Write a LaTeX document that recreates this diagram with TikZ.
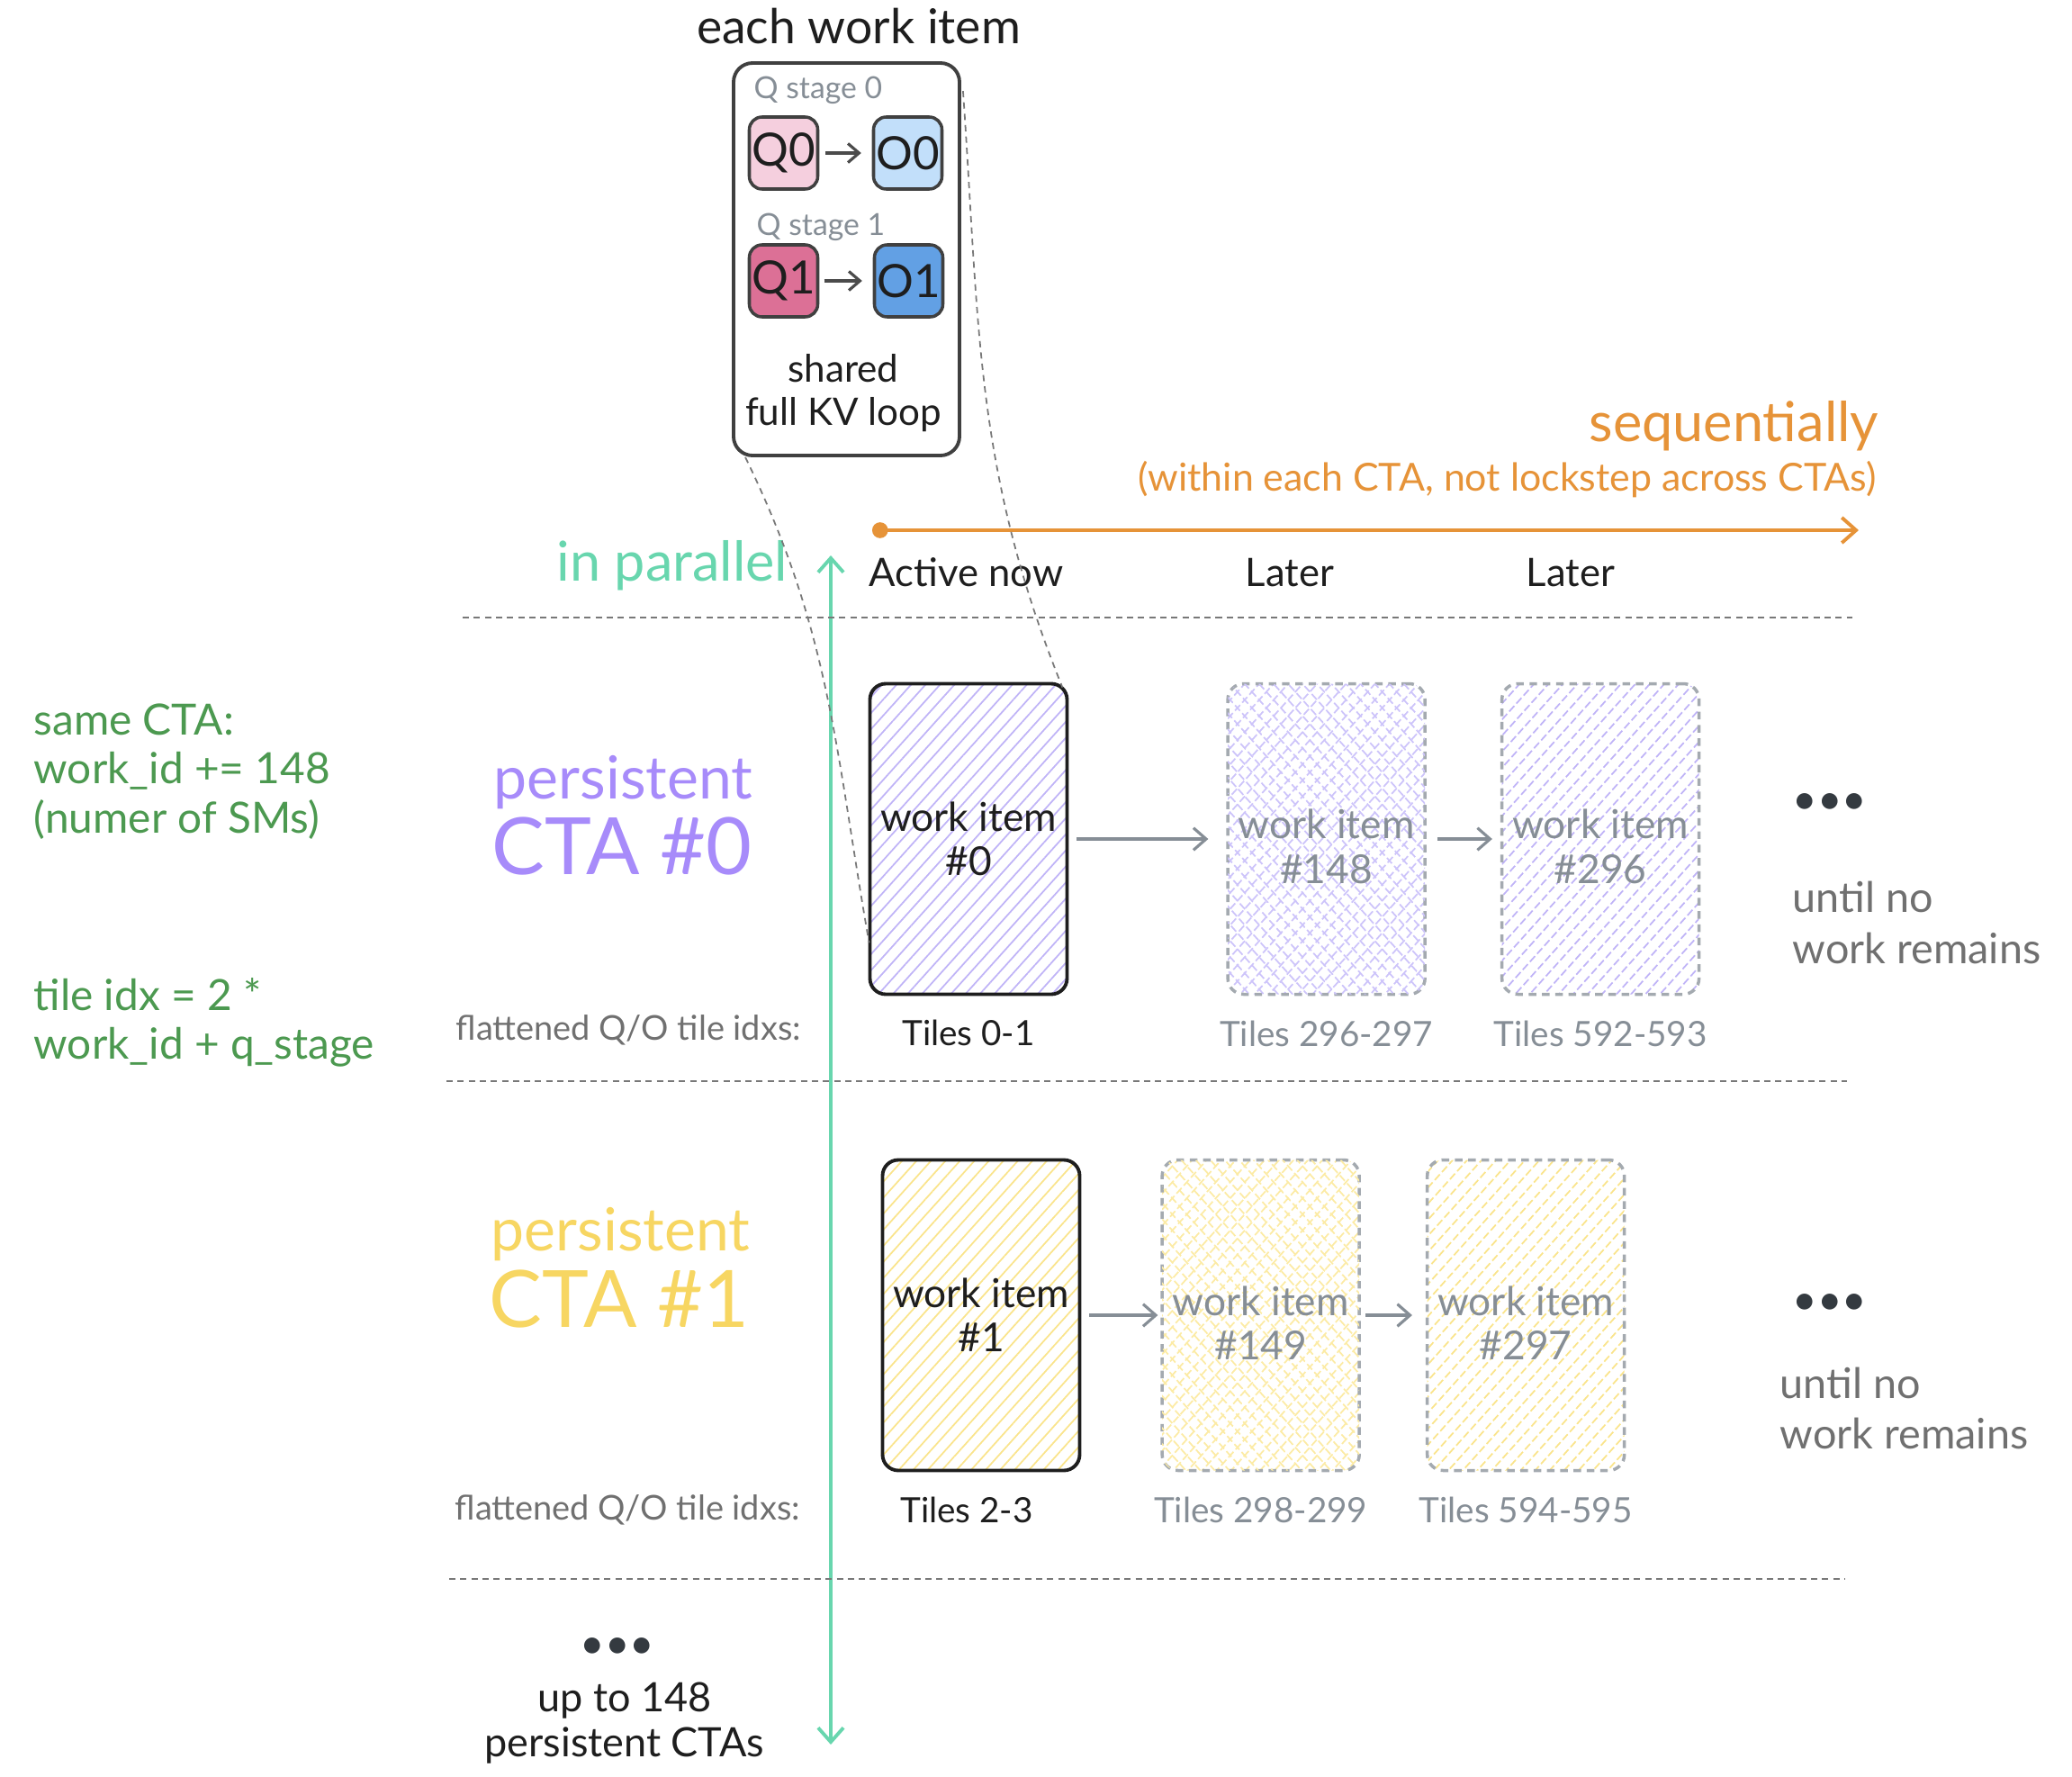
\documentclass[tikz,border=0pt]{standalone}
\usepackage{fontspec}
\setmainfont{Lato}
\usepackage{tikz}
\usetikzlibrary{arrows.meta, positioning, calc, patterns.meta}
\definecolor{colInk}{RGB}{30,30,30}
\definecolor{colGrey}{RGB}{134,142,150}
\definecolor{colGreyTxt}{RGB}{112,112,112}
\definecolor{colSep}{RGB}{120,120,120}
\definecolor{colViolet}{RGB}{167,139,250}
\definecolor{colVioletHatch}{RGB}{192,180,247}
\definecolor{colVioletCross}{RGB}{205,196,250}
\definecolor{colYellow}{RGB}{247,214,98}
\definecolor{colYellowHatch}{RGB}{250,228,140}
\definecolor{colYellowCross}{RGB}{252,235,165}
\definecolor{colGreen}{RGB}{76,153,80}
\definecolor{colTeal}{RGB}{104,214,174}
\definecolor{colOrange}{RGB}{230,147,56}
\definecolor{colQzero}{RGB}{245,207,222}
\definecolor{colOzero}{RGB}{194,223,250}
\definecolor{colQone}{RGB}{220,112,150}
\definecolor{colOone}{RGB}{98,160,228}
\definecolor{colDots}{RGB}{52,58,64}

\begin{document}
\begin{tikzpicture}[
        text=colInk,
        heading/.style={font=\fontsize{15.2}{18}\selectfont},
        hdr/.style={font=\fontsize{12.4}{15}\selectfont, inner sep=0pt},
        stage/.style={font=\fontsize{9.6}{11}\selectfont, text=colGrey, inner sep=0pt},
        qo/.style={rectangle, rounded corners=4pt, inner sep=0pt, minimum width=0.76cm, minimum height=0.80cm, draw=colInk!85, line width=1pt, font=\fontsize{14.5}{16}\selectfont},
        witem/.style={rectangle, rounded corners=5pt, inner sep=0pt, minimum width=2.19cm, minimum height=3.45cm, align=center, font=\fontsize{12.6}{14}\selectfont},
        active/.style={witem, draw=colInk, line width=1.1pt},
        later/.style={witem, draw=colGrey!75, dash pattern=on 2.4pt off 1.8pt, line width=1pt, text=colGrey},
        hatch/.style={pattern={Lines[angle=48, distance=3.4pt, line width=0.5pt]}, pattern color=#1},
        cross/.style={pattern={Lines[angle=48, distance=3.4pt, line width=0.5pt]}, pattern color=#1,
            postaction={pattern={Lines[angle=132, distance=3.4pt, line width=0.5pt]}, pattern color=#1}},
        arrow/.style={-{Straight Barb[length=4pt, width=7pt]}, line width=0.9pt, colGrey},
        small arrow/.style={-{Straight Barb[length=3.5pt, width=6pt]}, line width=0.9pt, colInk!80},
        sep/.style={colSep, dash pattern=on 2pt off 1.5pt, line width=0.6pt},
        link/.style={colSep, dash pattern=on 2pt off 1.6pt, line width=0.5pt},
        note/.style={font=\fontsize{13.6}{15.5}\selectfont, text=colGreen, align=left, inner sep=0pt},
        cta/.style={font=\fontsize{18.8}{22}\selectfont, inner sep=0pt},
        ctabig/.style={font=\fontsize{25}{28}\selectfont, inner sep=0pt},
        flat/.style={font=\fontsize{10.8}{13}\selectfont, text=colGreyTxt, inner sep=0pt},
        tiles/.style={font=\fontsize{11}{13}\selectfont, inner sep=0pt},
        until/.style={font=\fontsize{13.3}{16}\selectfont, text=colGreyTxt, align=left, inner sep=0pt},
        ellip/.style={font=\fontsize{13.5}{15}\selectfont, text=colDots, inner sep=0pt}
    ]
    \useasboundingbox (0,0) rectangle (23.02,-19.74);

    %% ── WORK ITEM DETAIL ──────────────────────────
    \node[heading] (title) at (9.54,-0.29) {each work item};
    \node[draw=colInk!85, line width=1.1pt, rounded corners=6pt, minimum width=2.51cm, minimum height=4.36cm] (each) at (9.405,-2.88) {};

    \node[stage, anchor=west] (stage0) at (8.37,-1.00) {Q stage 0};
    \node[qo, fill=colQzero] (q0) at (8.705,-1.70) {Q0};
    \node[qo, fill=colOzero] (o0) at (10.085,-1.70) {O0};
    \node[stage, anchor=west] (stage1) at (8.40,-2.52) {Q stage 1};
    \node[qo, fill=colQone] (q1) at (8.705,-3.12) {Q1};
    \node[qo, fill=colOone] (o1) at (10.095,-3.12) {O1};
    \node[align=center, font=\fontsize{12}{13.6}\selectfont] (kvloop) at (9.37,-4.365) {shared\\full KV loop};

    \draw[small arrow, shorten <=2pt, shorten >=3.4pt] (q0) -- (o0);
    \draw[small arrow, shorten <=1.5pt, shorten >=3.4pt] (q1) -- (o1);

    %% ── AXES ──────────────────────────────────────
    \node[font=\fontsize{17.4}{20}\selectfont, text=colOrange, anchor=east, inner sep=0pt] (seq) at (20.88,-4.73) {sequentially};
    \node[font=\fontsize{12.2}{14}\selectfont, text=colOrange, anchor=east, inner sep=0pt] (seq_note) at (20.85,-5.33) {(within each CTA, not lockstep across CTAs)};
    \coordinate (seq_start) at (9.69,-5.89);
    \coordinate (seq_end) at (20.65,-5.89);
    \draw[colOrange, line width=1.1pt, {Circle[length=5pt]}-{Straight Barb[length=4.5pt, width=8pt]}] (seq_start) -- (seq_end);

    \node[font=\fontsize{17.4}{20}\selectfont, text=colTeal, anchor=east, inner sep=0pt] (par) at (8.76,-6.28) {in parallel};
    \coordinate (par_top) at (9.23,-6.17);
    \coordinate (par_bot) at (9.23,-19.38);
    \draw[colTeal, line width=1.1pt, {Straight Barb[length=4.5pt, width=8pt]}-{Straight Barb[length=4.5pt, width=8pt]}] (par_top) -- (par_bot);

    \node[hdr, anchor=west] (now) at (9.65,-6.36) {Active now};
    \node[hdr] (later1) at (14.33,-6.36) {Later};
    \node[hdr] (later2) at (17.45,-6.36) {Later};

    % separators
    \draw[sep] (5.14,-6.86) -- (20.58,-6.86);
    \draw[sep] (4.96,-12.01) -- (20.52,-12.01);
    \draw[sep] (4.99,-17.54) -- (20.49,-17.54);

    %% ── LEFT NOTES ────────────────────────────────
    \node[note, anchor=west] (same_cta) at (0.37,-8.57) {same CTA:\\work\_id += 148\\(numer of SMs)};
    \node[note, anchor=west] (tile_idx) at (0.37,-11.36) {tile idx = 2 *\\work\_id + q\_stage};

    %% ── CTA #0 ────────────────────────────────────
    \node[cta, text=colViolet, anchor=west] (p0) at (5.48,-8.69) {persistent};
    \node[ctabig, text=colViolet, anchor=west] (cta0) at (5.46,-9.40) {CTA \#0};
    \node[flat, anchor=west] (flat0) at (5.06,-11.44) {flattened Q/O tile idxs:};

    \node[active, hatch=colVioletHatch] (w0) at (10.76,-9.32) {work item\\\#0};
    \node[later, cross=colVioletCross, right=1.76cm of w0] (w148) {\\work item\\\#148};
    \node[later, hatch=colVioletHatch, right=0.82cm of w148] (w296) {\\work item\\\#296};

    \node[tiles, below=0.27cm of w0] (t0) {Tiles 0-1};
    \node[tiles, text=colGrey, below=0.27cm of w148] (t148) {Tiles 296-297};
    \node[tiles, text=colGrey, below=0.27cm of w296] (t296) {Tiles 592-593};

    \draw[arrow, shorten <=0.1cm, shorten >=0.2cm] (w0) -- (w148);
    \draw[arrow, shorten <=0.12cm, shorten >=0.09cm] (w148) -- (w296);

    \node[ellip] (more0) at (20.33,-8.93) {•••};
    \node[until, anchor=west] (until0) at (19.91,-10.25) {until no\\work remains};

    %% ── CTA #1 ────────────────────────────────────
    \node[cta, text=colYellow, anchor=west] (p1) at (5.45,-13.71) {persistent};
    \node[ctabig, text=colYellow, anchor=west] (cta1) at (5.43,-14.43) {CTA \#1};
    \node[flat, anchor=west] (flat1) at (5.05,-16.77) {flattened Q/O tile idxs:};

    \node[active, hatch=colYellowHatch] (w1) at (10.90,-14.61) {work item\\\#1};
    \node[later, cross=colYellowCross, right=0.88cm of w1] (w149) {\\work item\\\#149};
    \node[later, hatch=colYellowHatch, right=0.72cm of w149] (w297) {\\work item\\\#297};

    \node[tiles, below=0.27cm of w1, xshift=-0.16cm] (t1) {Tiles 2-3};
    \node[tiles, text=colGrey, below=0.27cm of w149] (t149) {Tiles 298-299};
    \node[tiles, text=colGrey, below=0.27cm of w297] (t297) {Tiles 594-595};

    \draw[arrow, shorten <=0.09cm, shorten >=0.03cm] (w1) -- (w149);
    \draw[arrow, shorten <=0.05cm, shorten >=0.15cm] (w149) -- (w297);

    \node[ellip] (more1) at (20.33,-14.49) {•••};
    \node[until, anchor=west] (until1) at (19.77,-15.645) {until no\\work remains};

    %% ── MORE CTAs ─────────────────────────────────
    \node[ellip] (more_cta) at (6.86,-18.31) {•••};
    \node[align=center, font=\fontsize{12.8}{14.2}\selectfont, inner sep=0pt] (upto) at (6.94,-19.14) {up to 148\\persistent CTAs};

    %% ── ZOOM LINKS ────────────────────────────────
    \draw[link] ($(each.south west)+(0.15,0)$) to[out=-64, in=100] ($(w0.south west)+(0,0.58)$);
    \draw[link] ($(each.north east)+(0.02,-0.33)$) to[out=-86, in=112] ($(w0.north east)+(-0.06,-0.05)$);

\end{tikzpicture}
\end{document}
